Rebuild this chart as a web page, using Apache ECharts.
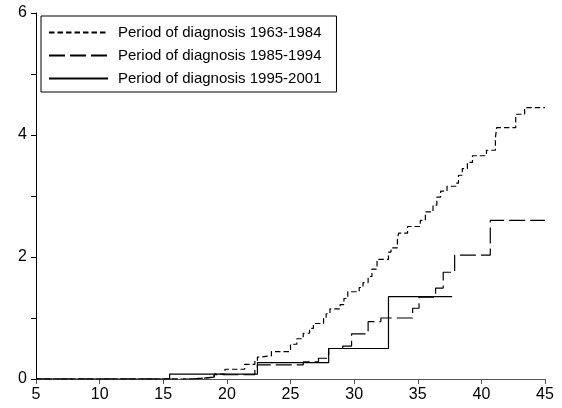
<!DOCTYPE html>
<html><head><meta charset="utf-8">
<script src="https://cdn.jsdelivr.net/npm/echarts@6/dist/echarts.min.js"></script>
<style>html,body{margin:0;padding:0;background:#fff}#c{width:562px;height:408px}</style>
</head><body><div id="c"></div>
<script>
// Series names
const seriesNames = ['Period of diagnosis 1963-1984','Period of diagnosis 1985-1994','Period of diagnosis 1995-2001'];
// step data: [time, level after jump]
const s1963x = [5,17.3,19.0,19.85,21.4,22.2,22.4,22.6,23.5,25.0,25.5,26.0,26.5,26.8,27.6,27.8,28.1,28.9,29.2,29.5,30.4,30.7,31.1,31.4,31.8,32.7,32.9,33.4,33.5,34.2,35.2,35.6,36.2,36.5,36.8,37.3,38.0,38.2,38.5,38.9,39.3,40.4,41.1,41.2,42.7,43.4,45];
const s1963y = [0,0.03,0.08,0.16,0.24,0.30,0.36,0.38,0.45,0.57,0.66,0.75,0.83,0.91,0.99,1.07,1.15,1.22,1.32,1.43,1.50,1.58,1.68,1.80,1.96,2.08,2.15,2.30,2.39,2.50,2.60,2.74,2.85,2.98,3.08,3.16,3.21,3.34,3.45,3.55,3.66,3.75,3.95,4.12,4.34,4.45,4.45];
const s1985x = [5,17.3,19.0,22.2,22.4,26.0,27.2,28.0,29.1,29.8,31.1,32.1,34.6,35.1,36.4,37.0,37.9,40.7,45];
const s1985y = [0,0.03,0.07,0.15,0.23,0.28,0.34,0.50,0.54,0.74,0.94,1.00,1.16,1.34,1.49,1.75,2.03,2.60,2.60];
const s1995x = [5,15.5,22.4,28.0,32.7,37.7];
const s1995y = [0,0.08,0.27,0.50,1.35,1.35];
const xTicks = [5,10,15,20,25,30,35,40,45];
const yTickLabels = ['0','','2','','4','','6'];

const zip = (xs, ys) => xs.map((x, i) => [x, ys[i]]);
const font = 'Liberation Sans, Arial, sans-serif';
const chart = echarts.init(document.getElementById('c'), null, {renderer: 'canvas'});
const mk = (name, xs, ys, type, z) => ({
  name, type: 'line', step: 'end', data: zip(xs, ys), symbol: 'none', z,
  itemStyle: {color: '#000'},
  lineStyle: {color: '#000', width: 1.2, type}
});
chart.setOption({
  animation: false,
  backgroundColor: '#fff',
  textStyle: {fontFamily: font},
  grid: {left: 36, right: 17, top: 13, bottom: 29, containLabel: false},
  legend: {
    orient: 'vertical', left: 41, top: 16,
    borderColor: '#000', borderWidth: 1, borderRadius: 0,
    padding: [9, 15, 6, 7],
    itemWidth: 59, itemHeight: 14, itemGap: 8,
    itemStyle: {opacity: 0},
    textStyle: {fontFamily: font, fontSize: 15, color: '#000', padding: [0, 0, 0, 5]},
    data: seriesNames
  },
  xAxis: {
    type: 'value', min: 5, max: 45, interval: 5,
    axisLine: {show: true, onZero: false, lineStyle: {color: '#555', width: 1}},
    axisTick: {show: true, length: 5, lineStyle: {color: '#555'}},
    axisLabel: {color: '#000', fontSize: 16, fontFamily: font, margin: 8,
      formatter: v => xTicks.includes(v) ? String(v) : ''},
    splitLine: {show: false}
  },
  yAxis: {
    type: 'value', min: 0, max: 6, interval: 1,
    axisLine: {show: true, lineStyle: {color: '#000', width: 1}},
    axisTick: {show: true, length: 5, lineStyle: {color: '#000'}},
    axisLabel: {color: '#000', fontSize: 16, fontFamily: font, margin: 9,
      formatter: v => yTickLabels[Math.round(v)] || ''},
    splitLine: {show: false}
  },
  series: [
    mk(seriesNames[0], s1963x, s1963y, [5.5, 3], 3),
    mk(seriesNames[1], s1985x, s1985y, [16, 5], 2),
    mk(seriesNames[2], s1995x, s1995y, 'solid', 4)
  ]
});
</script></body></html>
